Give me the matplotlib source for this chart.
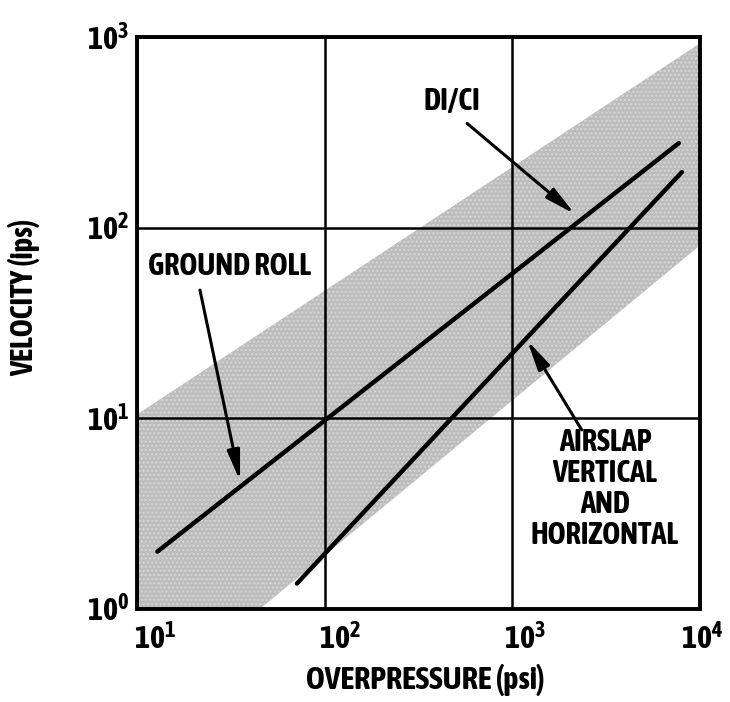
import matplotlib
matplotlib.use("Agg")
import matplotlib.pyplot as plt
from matplotlib import transforms, font_manager

# ---- data ----
x_ticks = [1e1, 1e2, 1e3, 1e4]
x_tick_labels = [r'$\mathbf{10^{1}}$', r'$\mathbf{10^{2}}$', r'$\mathbf{10^{3}}$', r'$\mathbf{10^{4}}$']
y_ticks = [1e0, 1e1, 1e2, 1e3]
y_tick_labels = [r'$\mathbf{10^{0}}$', r'$\mathbf{10^{1}}$', r'$\mathbf{10^{2}}$', r'$\mathbf{10^{3}}$']

# shaded band (polygon vertices, overpressure psi / velocity ips)
band_x = [10, 10000, 10000, 45, 10]
band_y = [10.5, 930, 81, 1.0, 1.0]

# ground roll / DI-CI line
ground_x = [12.8, 7700]
ground_y = [2.0, 278]

# airslap line
airslap_x = [71, 8000]
airslap_y = [1.36, 196]

names = {f.name for f in font_manager.fontManager.ttflist}
if 'Asap Condensed' in names:
    FONT, k = 'Asap Condensed', 1.0
else:
    FONT, k = 'Liberation Sans', 0.85
plt.rcParams['font.family'] = [FONT, 'DejaVu Sans']
plt.rcParams['mathtext.fontset'] = 'custom'
plt.rcParams['mathtext.bf'] = FONT + ':bold'
plt.rcParams['mathtext.rm'] = FONT

fig = plt.figure(figsize=(7.30, 7.02), dpi=100)
ax = fig.add_axes([0.188, 0.1325, 0.771, 0.8145])
ax.set_xscale('log')
ax.set_yscale('log')
ax.set_xlim(1e1, 1e4)
ax.set_ylim(1e0, 1e3)

ax.fill(band_x, band_y, facecolor='#bcbcbc', edgecolor='#d8d8d8', hatch='....', linewidth=0, zorder=1)

ax.set_xticks(x_ticks)
ax.set_xticklabels(x_tick_labels)
ax.set_yticks(y_ticks)
ax.set_yticklabels(y_tick_labels)
ax.minorticks_off()
ax.tick_params(length=0, labelsize=23 * k)
ax.tick_params(axis='x', pad=11)
ax.tick_params(axis='y', pad=6)
for lab, dx in zip(ax.get_xticklabels(), [18, 15, 12, 2]):
    lab.set_transform(lab.get_transform() + transforms.ScaledTranslation(dx / 100, 0, fig.dpi_scale_trans))
ax.grid(True, which='major', color='black', linewidth=1.8, zorder=2)
ax.set_axisbelow(False)
for s in ax.spines.values():
    s.set_linewidth(2.8)
    s.set_zorder(5)

ax.plot(ground_x, ground_y, color='black', linewidth=3.2, solid_capstyle='round', zorder=4)
ax.plot(airslap_x, airslap_y, color='black', linewidth=3.2, solid_capstyle='round', zorder=4)

tf = dict(fontsize=22 * k, fontweight='bold', color='black', zorder=6)
ap = dict(arrowstyle='-|>,head_length=1.8,head_width=0.38', color='black', lw=2.2,
          shrinkA=0, shrinkB=0)

ax.text(30.9, 63, 'GROUND ROLL', ha='center', va='center', **tf)
ax.annotate('', xy=(35.3, 4.7), xytext=(21.6, 47.1), arrowprops=ap)
ax.text(476, 461, 'DI/CI', ha='center', va='center', **tf)
ax.annotate('', xy=(2150, 118), xytext=(573, 353), arrowprops=ap)
ax.text(3110, 4.26, 'AIRSLAP\nVERTICAL\nAND\nHORIZONTAL', ha='center', va='center',
        multialignment='center', linespacing=1.0, **tf)
ax.annotate('', xy=(1197, 25.7), xytext=(2340, 8.7), arrowprops=ap)

ax.set_xlabel('OVERPRESSURE (psi)', fontsize=23 * k, fontweight='bold')
ax.xaxis.set_label_coords(0.512, -0.096)
ax.set_ylabel('VELOCITY (ips)', fontsize=22 * k, fontweight='bold')
ax.yaxis.set_label_coords(-0.172, 0.545)

fig.savefig('out.png', dpi=100)
